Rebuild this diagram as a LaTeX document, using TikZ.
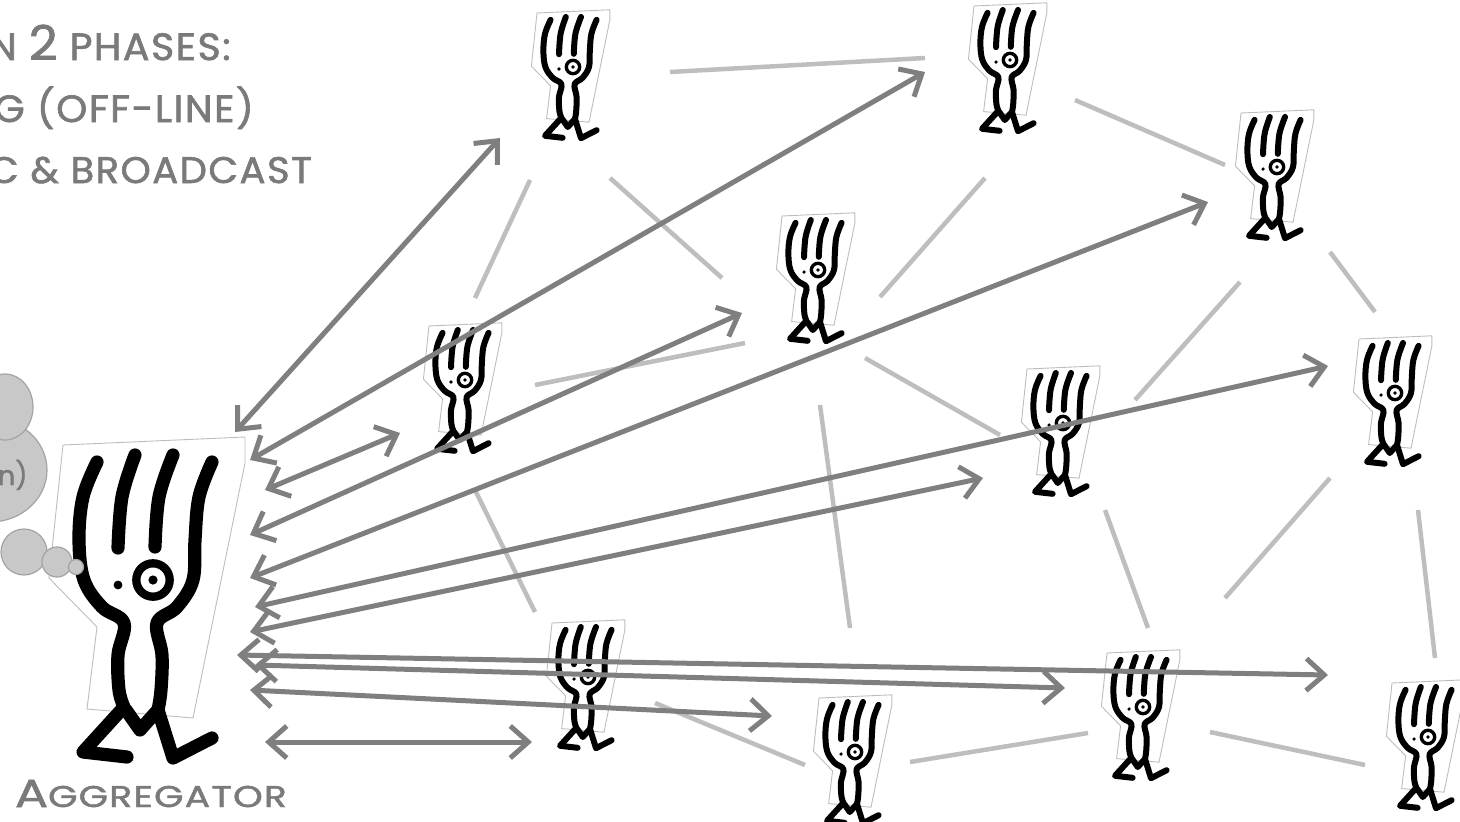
\documentclass[tikz,border=0pt]{standalone}
\usepackage{fontspec}
\setmainfont{Poppins}
\newfontfamily\handfont[FakeBold=1.6, FakeStretch=1.04, LetterSpace=4]{Poppins}
\newfontfamily\handwide[FakeBold=1.6, FakeStretch=1.26, LetterSpace=4]{Poppins}
\newfontfamily\cloudfont[FakeBold=1.2]{Poppins}
\usetikzlibrary{arrows.meta}
\definecolor{arrowgray}{HTML}{7F7F7F}
\definecolor{linkgray}{HTML}{BEBEBE}
\definecolor{framegray}{HTML}{BDBDBD}
\definecolor{textgray}{HTML}{7A7A7A}
\definecolor{cloudfill}{HTML}{C8C8C8}
\definecolor{cloudline}{HTML}{A3A3A3}

\tikzset{
  pics/walker/.style={code={
    \begin{scope}[scale=#1]
      % sticker outline behind the figure
      \filldraw[fill=white, draw=framegray, line width=0.9pt]
        (-90,-135) -- (92,-143) -- (92,-117) -- (40,138) -- (-66,129)
        -- (-56,47) -- (-104,-2) -- cycle;
      \begin{scope}[line width=#1*12pt+1.2pt, line cap=round, line join=round]
        % outer prongs running into body and legs
        \draw plot[smooth, tension=0.6] coordinates {(-56,-118) (-70,-83) (-74,-40) (-69,0) (-51,27) (-29,43) (-35,75) (-34,110) (-29,127)}
          -- (-70,172) -- (-26,177);
        \draw plot[smooth, tension=0.6] coordinates {(59,-118) (46,-83) (42,-40) (40,0) (24,27) (4,43) (9,75) (8,110) (5,130)}
          -- (20,178) -- (59,158);
        % inner prongs
        \draw plot[smooth, tension=0.6] coordinates {(-18,-125) (-31,-83) (-35,-32)};
        \draw plot[smooth, tension=0.6] coordinates {(20,-125) (6,-83) (2,-33)};
        % crotch
        \draw (-27,130) -- (-13,150) -- (3,132);
      \end{scope}
      % eye and dot
      \draw[line width=#1*8.3pt] (0,0) circle[radius=16.7];
      \fill (0,0) circle[radius=4.6];
      \fill (-35,5) circle[radius=4.4];
    \end{scope}
  }},
  dbl/.style={draw=arrowgray, line width=5pt,
    {Straight Barb[length=18pt,width=32pt]}-{Straight Barb[length=18pt,width=32pt]}},
  link/.style={draw=linkgray, line width=4.5pt},
  hand/.style={text=textgray, inner sep=0pt, outer sep=0pt},
}

\begin{document}
\begin{tikzpicture}[x=1pt, y=-1pt]
\useasboundingbox (0,0) rectangle (1460,822);
\clip (0,0) rectangle (1460,822);

% figures
\pic (agg) at (153,580) {walker=1};
\pic (w1)  at (573,67)   {walker=0.4};
\pic (w2)  at (1010,60)  {walker=0.4};
\pic (w3)  at (1277,167) {walker=0.4};
\pic (w4)  at (818,270)  {walker=0.4};
\pic (w5)  at (465,380)  {walker=0.4};
\pic (w6)  at (1063,423) {walker=0.4};
\pic (w7)  at (1395,393) {walker=0.4};
\pic (w8)  at (588,677)  {walker=0.4};
\pic (w9)  at (855,752)  {walker=0.4};
\pic (w10) at (1143,707) {walker=0.4};
\pic (w11) at (1428,737) {walker=0.4};

% thought cloud
\begin{scope}[fill=cloudfill, draw=cloudline, line width=1.2pt]
  \filldraw (-10,470) ellipse[x radius=57, y radius=52];
  \filldraw (5,407) ellipse[x radius=28, y radius=33];
  \node[hand, anchor=base west, font=\cloudfont\fontsize{27}{30}\selectfont] (cloudtxt) at (-2,485) {n)};
  \filldraw (24,552) circle[radius=23];
  \filldraw (57,562) circle[radius=15];
  \filldraw (76,567) circle[radius=7.5];
\end{scope}

% texts
\node[hand, anchor=base west] (t1) at (-11,60)
  {\handfont\fontsize{38}{40}\selectfont N {\fontsize{48}{50}\selectfont 2} PHASES:};
\node[hand, anchor=base west] (t2) at (-6,122)
  {\handfont\fontsize{38}{40}\selectfont G (OFF-LINE)};
\node[hand, anchor=base west] (t3) at (-11,183)
  {\handfont\fontsize{37}{40}\selectfont C \& BROADCAST};
\node[hand, anchor=base west] (aggname) at (15,807)
  {\handwide{\fontsize{39}{40}\selectfont A}{\fontsize{30}{30}\selectfont GGREGATOR}};

% links between peers
\coordinate (l1a) at (670,72);   \coordinate (l1b) at (925,58);
\coordinate (l2a) at (1075,100); \coordinate (l2b) at (1225,165);
\coordinate (l3a) at (530,180);  \coordinate (l3b) at (475,298);
\coordinate (l4a) at (610,178);  \coordinate (l4b) at (722,278);
\coordinate (l5a) at (985,178);  \coordinate (l5b) at (880,297);
\coordinate (l6a) at (1240,282); \coordinate (l6b) at (1135,400);
\coordinate (l7a) at (1330,252); \coordinate (l7b) at (1375,312);
\coordinate (l8a) at (535,385);  \coordinate (l8b) at (745,343);
\coordinate (l9a) at (865,358);  \coordinate (l9b) at (1000,435);
\coordinate (l10a) at (820,405); \coordinate (l10b) at (850,628);
\coordinate (l11a) at (475,490); \coordinate (l11b) at (535,612);
\coordinate (l12a) at (1105,510);\coordinate (l12b) at (1148,628);
\coordinate (l13a) at (1330,478);\coordinate (l13b) at (1225,598);
\coordinate (l14a) at (1418,510);\coordinate (l14b) at (1435,658);
\coordinate (l15a) at (655,703); \coordinate (l15b) at (805,765);
\coordinate (l16a) at (910,762); \coordinate (l16b) at (1088,733);
\coordinate (l17a) at (1210,732);\coordinate (l17b) at (1365,765);
\foreach \i in {1,...,17} \draw[link] (l\i a) -- (l\i b);

% exchanges with the aggregator
\coordinate (a1a) at (235,432);  \coordinate (a1b) at (500,138);
\coordinate (a2a) at (250,460);  \coordinate (a2b) at (925,72);
\coordinate (a3a) at (265,490);  \coordinate (a3b) at (400,433);
\coordinate (a4a) at (250,535);  \coordinate (a4b) at (742,313);
\coordinate (a5a) at (250,578);  \coordinate (a5b) at (1208,202);
\coordinate (a6a) at (255,607);  \coordinate (a6b) at (1328,366);
\coordinate (a7a) at (250,632);  \coordinate (a7b) at (983,478);
\coordinate (a8a) at (237,655);  \coordinate (a8b) at (1328,675);
\coordinate (a9a) at (255,665);  \coordinate (a9b) at (1065,688);
\coordinate (a10a) at (250,690); \coordinate (a10b) at (772,716);
\coordinate (a11a) at (265,742); \coordinate (a11b) at (532,742);
\foreach \i in {1,...,11} \draw[dbl] (a\i a) -- (a\i b);
\end{tikzpicture}
\end{document}
